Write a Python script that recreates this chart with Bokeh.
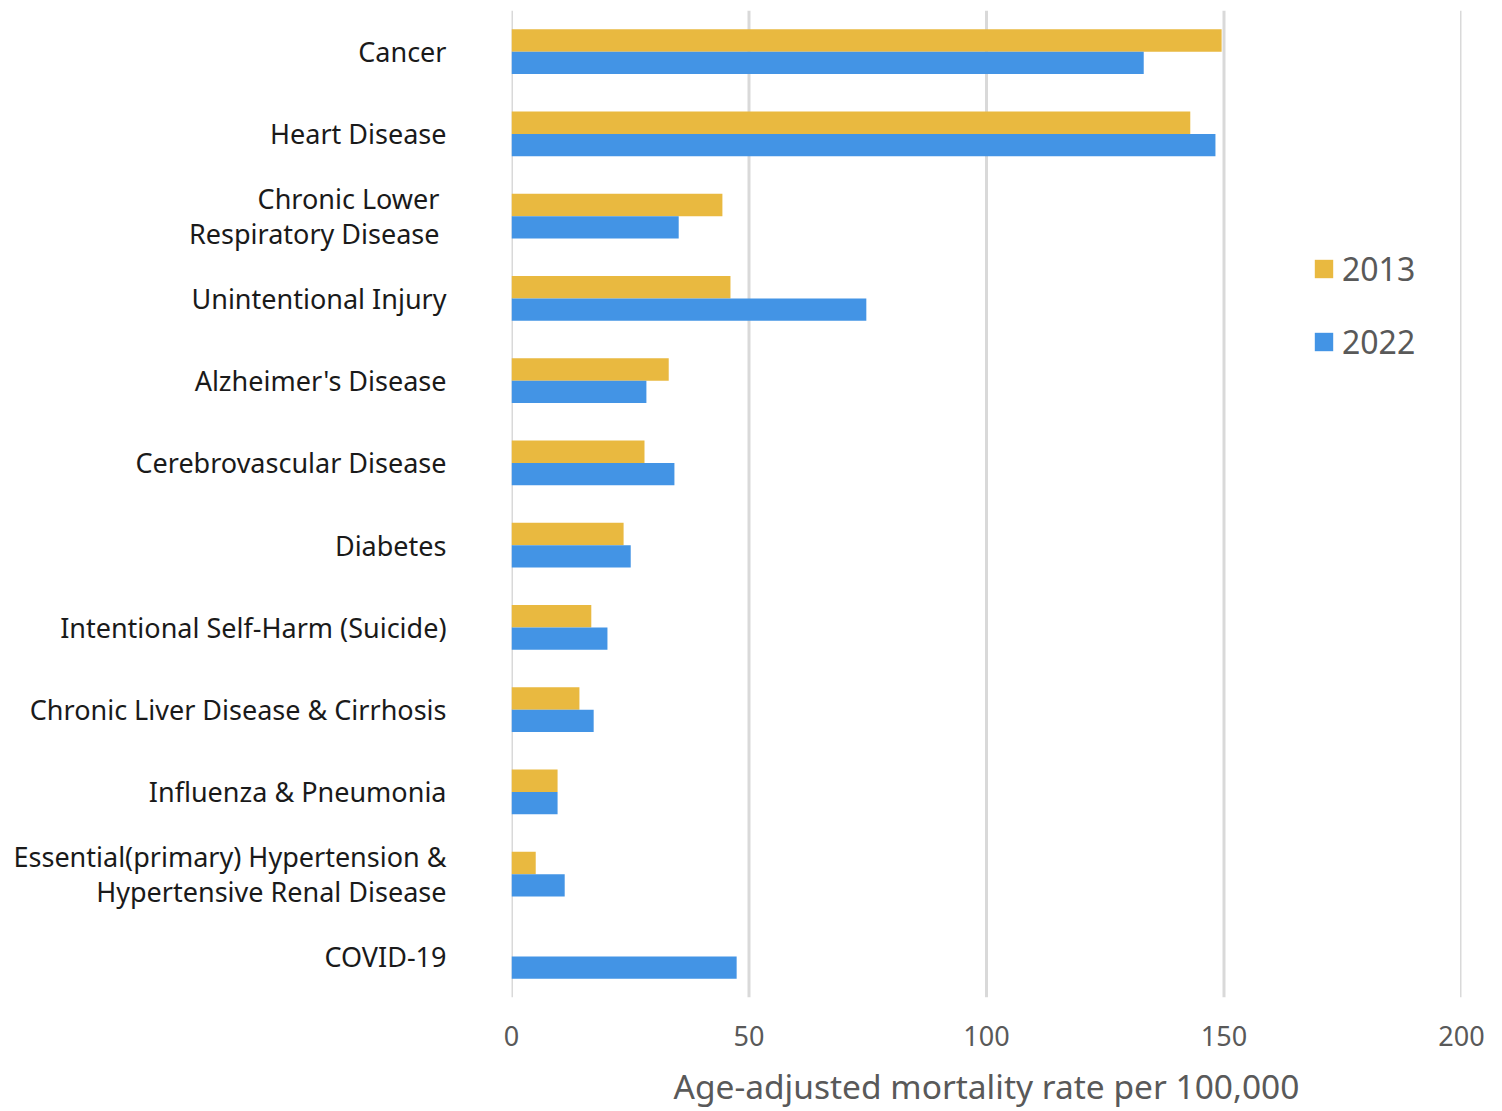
from bokeh.plotting import figure
from bokeh.models import Range1d, FixedTicker, Legend, LegendItem, Span
from bokeh.embed import file_html
from bokeh.resources import INLINE

# Leading causes of death, age-adjusted mortality rate per 100,000
causes = [
    "Cancer",
    "Heart Disease",
    "Chronic Lower \nRespiratory Disease ",
    "Unintentional Injury",
    "Alzheimer's Disease",
    "Cerebrovascular Disease",
    "Diabetes",
    "Intentional Self-Harm (Suicide)",
    "Chronic Liver Disease & Cirrhosis",
    "Influenza & Pneumonia",
    "Essential(primary) Hypertension &\nHypertensive Renal Disease",
    "COVID-19",
]
rate_2013 = [149.5, 142.9, 44.4, 46.1, 33.1, 28.0, 23.6, 16.8, 14.3, 9.7, 5.1, None]
rate_2022 = [133.1, 148.2, 35.2, 74.7, 28.4, 34.3, 25.1, 20.2, 17.3, 9.7, 11.2, 47.4]
years = ["2013", "2022"]
colors = ["#E9B940", "#4394E5"]
x_ticks = [0, 50, 100, 150, 200]

FONT = "Noto Sans"
GREY = "#595959"

n = len(causes)
pos = list(range(n))

p = figure(
    width=1502, height=1111,
    x_range=Range1d(x_ticks[0], x_ticks[-1]), y_range=Range1d(n - 0.5, -0.5),
    output_backend="svg", toolbar_location=None,
    min_border_left=511, min_border_right=41,
    min_border_top=10, min_border_bottom=113,
)
p.outline_line_color = None
p.background_fill_color = "white"
p.border_fill_color = "white"

# vertical gridlines, including the ones on the frame edges
for t in x_ticks:
    p.add_layout(Span(location=t, dimension="height", line_color="#d9d9d9",
                      line_width=3, level="underlay"))
p.xgrid.grid_line_color = None
p.ygrid.grid_line_color = None

bar_h = 0.273
renderers = []
for k, (vals, col) in enumerate(zip([rate_2013, rate_2022], colors)):
    offset = (-0.5 + k) * bar_h
    ys = [pos[i] + offset for i in range(n) if vals[i] is not None]
    xs = [vals[i] for i in range(n) if vals[i] is not None]
    r = p.hbar(y=ys, left=0, right=xs, height=bar_h,
               fill_color=col, line_color=None)
    renderers.append(r)

# x axis
p.xaxis.ticker = FixedTicker(ticks=x_ticks)
p.xaxis.axis_line_color = None
p.xaxis.major_tick_line_color = None
p.xaxis.minor_tick_line_color = None
p.xaxis.major_label_text_font = FONT
p.xaxis.major_label_text_font_size = "27px"
p.xaxis.major_label_text_color = GREY
p.xaxis.major_label_standoff = 22
p.xaxis.axis_label = "Age-adjusted mortality rate per 100,000"
p.xaxis.axis_label_text_font = FONT
p.xaxis.axis_label_text_font_style = "normal"
p.xaxis.axis_label_text_font_size = "33.5px"
p.xaxis.axis_label_text_color = GREY
p.xaxis.axis_label_standoff = 14

# y axis with cause names
p.yaxis.ticker = FixedTicker(ticks=pos)
p.yaxis.major_label_overrides = {i: c for i, c in enumerate(causes)}
p.yaxis.axis_line_color = None
p.yaxis.major_tick_line_color = None
p.yaxis.minor_tick_line_color = None
p.yaxis.major_label_text_font = FONT
p.yaxis.major_label_text_font_size = "27px"
p.yaxis.major_label_text_color = "#1a1a1a"
p.yaxis.major_label_text_align = "right"
p.yaxis.major_label_text_line_height = 0.95
p.yaxis.major_label_standoff = 59

legend = Legend(
    items=[LegendItem(label=y, renderers=[r]) for y, r in zip(years, renderers)],
    location=(801, 634),
    glyph_width=23, glyph_height=23,
    label_text_font=FONT, label_text_font_size="32px",
    label_text_color=GREY, label_standoff=7,
    spacing=30, padding=0, margin=0,
    border_line_color=None, background_fill_alpha=0,
)
p.add_layout(legend, "center")

open("out.html", "w").write(file_html(p, INLINE))
